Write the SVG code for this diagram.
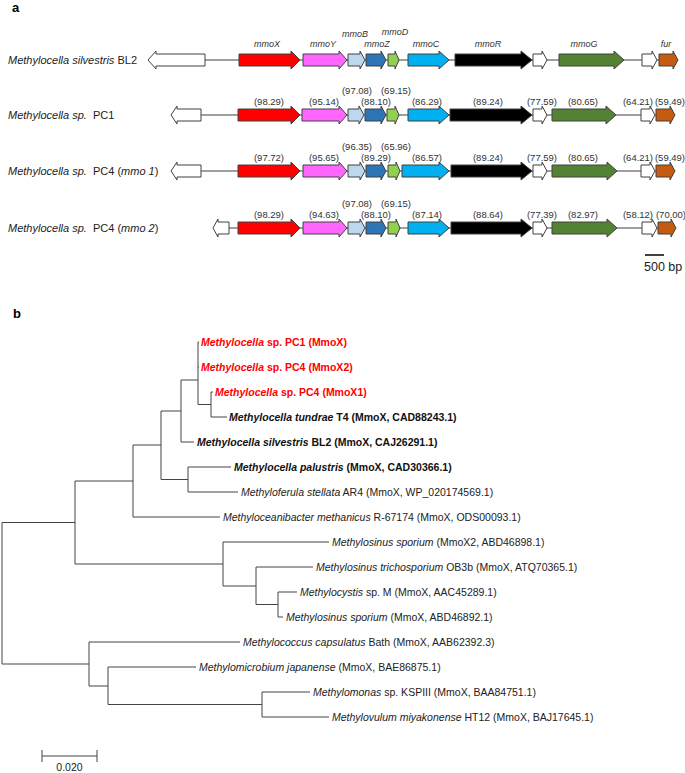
<svg xmlns="http://www.w3.org/2000/svg" width="685" height="773" viewBox="0 0 685 773">
<style>
.g{stroke:#404040;stroke-width:1;stroke-linejoin:miter}
.w{fill:#ffffff}.x{fill:#ff0000}.y{fill:#ff66ff}.b{fill:#bdd7ee}.z{fill:#2e75b6}.d{fill:#92d050}.c{fill:#00b0f0}.r{fill:#000000}.gg{fill:#548235}.f{fill:#c55a11}
.ln{stroke:#404040;stroke-width:1;fill:none}
.gl{font-family:"Liberation Sans",Arial,sans-serif;font-style:italic;font-size:9px;fill:#333;text-anchor:middle}
.num{font-family:"Liberation Sans",Arial,sans-serif;font-size:9.5px;fill:#333;text-anchor:middle}
.lbl{font-family:"Liberation Sans",Arial,sans-serif;font-size:11px;fill:#222}
.tl{font-family:"Liberation Sans",Arial,sans-serif;font-size:10.5px;fill:#222}
.bd{font-weight:bold;fill:#111}
.red{font-weight:bold;fill:#ff0000}
.it{font-style:italic}
.pl{font-family:"Liberation Sans",Arial,sans-serif;font-weight:bold;font-size:13px;fill:#000}
.tree{stroke:#444;stroke-width:1;fill:none}
</style>

<text class="pl" x="12" y="12">a</text>
<text class="pl" x="13" y="318">b</text>

<!-- Row 1 -->
<g id="row-bl2" transform="translate(0,60)">
<text class="lbl" x="8" y="4"><tspan class="it">Methylocella silvestris</tspan> BL2</text>
<path class="ln" d="M205 0H659"/>
<polygon class="g w" points="205,-6 156,-6 156,-9 148,0 156,9 156,6 205,6"/>
<polygon class="g x" points="239,-6 291,-6 291,-9 300,0 291,9 291,6 239,6"/>
<polygon class="g y" points="303,-6 339,-6 339,-9 347,0 339,9 339,6 303,6"/>
<polygon class="g b" points="348,-6 360,-6 360,-9 365,0 360,9 360,6 348,6"/>
<polygon class="g z" points="366,-6 381,-6 381,-9 386,0 381,9 381,6 366,6"/>
<polygon class="g d" points="388,-6 395,-6 395,-9 399,0 395,9 395,6 388,6"/>
<polygon class="g c" points="408,-6 439,-6 439,-9 449,0 439,9 439,6 408,6"/>
<polygon class="g r" points="455,-6 521,-6 521,-9 532,0 521,9 521,6 455,6"/>
<polygon class="g w" points="533,-6 542,-6 542,-9 547,0 542,9 542,6 533,6"/>
<polygon class="g gg" points="559,-6 614,-6 614,-9 624,0 614,9 614,6 559,6"/>
<polygon class="g w" points="642,-6 652,-6 652,-9 657,0 652,9 652,6 642,6"/>
<polygon class="g f" points="659,-6 673,-6 673,-9 678,0 673,9 673,6 659,6"/>
<text class="gl" x="267" y="-13">mmoX</text>
<text class="gl" x="323" y="-13">mmoY</text>
<text class="gl" x="355" y="-23">mmoB</text>
<text class="gl" x="377" y="-13">mmoZ</text>
<text class="gl" x="395" y="-25">mmoD</text>
<text class="gl" x="426" y="-13">mmoC</text>
<text class="gl" x="488" y="-13">mmoR</text>
<text class="gl" x="584" y="-13">mmoG</text>
<text class="gl" x="666" y="-13">fur</text>
</g>

<!-- Row 2 -->
<g id="row-pc1" transform="translate(0,115)">
<text class="lbl" x="8" y="4" xml:space="preserve"><tspan class="it">Methylocella sp.</tspan>  PC1</text>
<path class="ln" d="M201 0H656"/>
<polygon class="g w" points="201,-6 177,-6 177,-9 171,0 177,9 177,6 201,6"/>
<polygon class="g x" points="238,-6 291,-6 291,-9 300,0 291,9 291,6 238,6"/>
<polygon class="g y" points="302,-6 339,-6 339,-9 347,0 339,9 339,6 302,6"/>
<polygon class="g b" points="348,-6 359,-6 359,-9 364,0 359,9 359,6 348,6"/>
<polygon class="g z" points="365,-6 381,-6 381,-9 386,0 381,9 381,6 365,6"/>
<polygon class="g d" points="387,-6 395,-6 395,-9 399,0 395,9 395,6 387,6"/>
<polygon class="g c" points="408,-6 439,-6 439,-9 449,0 439,9 439,6 408,6"/>
<polygon class="g r" points="450,-6 521,-6 521,-9 532,0 521,9 521,6 450,6"/>
<polygon class="g w" points="533,-6 542,-6 542,-9 547,0 542,9 542,6 533,6"/>
<polygon class="g gg" points="552,-6 606,-6 606,-9 616,0 606,9 606,6 552,6"/>
<polygon class="g w" points="641,-6 650,-6 650,-9 655,0 650,9 650,6 641,6"/>
<polygon class="g f" points="656,-6 670,-6 670,-9 675,0 670,9 670,6 656,6"/>
<text class="num" x="269" y="-10">(98.29)</text>
<text class="num" x="324" y="-10">(95.14)</text>
<text class="num" x="357" y="-21.5">(97.08)</text>
<text class="num" x="396" y="-21.5">(69.15)</text>
<text class="num" x="376" y="-10">(88.10)</text>
<text class="num" x="427" y="-10">(86.29)</text>
<text class="num" x="488" y="-10">(89.24)</text>
<text class="num" x="542" y="-10">(77.59)</text>
<text class="num" x="583" y="-10">(80.65)</text>
<text class="num" x="638" y="-10">(64.21)</text>
<text class="num" x="670" y="-10">(59.49)</text>
</g>

<!-- Row 3 -->
<g id="row-pc4-mmo1" transform="translate(0,171)">
<text class="lbl" x="8" y="4" xml:space="preserve"><tspan class="it">Methylocella sp.</tspan>  PC4 (<tspan class="it">mmo 1</tspan>)</text>
<path class="ln" d="M201 0H656"/>
<polygon class="g w" points="201,-6 177,-6 177,-9 171,0 177,9 177,6 201,6"/>
<polygon class="g x" points="238,-6 291,-6 291,-9 300,0 291,9 291,6 238,6"/>
<polygon class="g y" points="303,-6 339,-6 339,-9 347,0 339,9 339,6 303,6"/>
<polygon class="g b" points="348,-6 360,-6 360,-9 365,0 360,9 360,6 348,6"/>
<polygon class="g z" points="366,-6 381,-6 381,-9 386,0 381,9 381,6 366,6"/>
<polygon class="g d" points="388,-6 396,-6 396,-9 400,0 396,9 396,6 388,6"/>
<polygon class="g c" points="402,-6 439,-6 439,-9 449,0 439,9 439,6 402,6"/>
<polygon class="g r" points="451,-6 521,-6 521,-9 532,0 521,9 521,6 451,6"/>
<polygon class="g w" points="533,-6 542,-6 542,-9 547,0 542,9 542,6 533,6"/>
<polygon class="g gg" points="552,-6 607,-6 607,-9 617,0 607,9 607,6 552,6"/>
<polygon class="g w" points="641,-6 650,-6 650,-9 655,0 650,9 650,6 641,6"/>
<polygon class="g f" points="656,-6 670,-6 670,-9 675,0 670,9 670,6 656,6"/>
<text class="num" x="269" y="-10">(97.72)</text>
<text class="num" x="324" y="-10">(95.65)</text>
<text class="num" x="357" y="-21.5">(96.35)</text>
<text class="num" x="396" y="-21.5">(65.96)</text>
<text class="num" x="376" y="-10">(89.29)</text>
<text class="num" x="427" y="-10">(86.57)</text>
<text class="num" x="488" y="-10">(89.24)</text>
<text class="num" x="542" y="-10">(77.59)</text>
<text class="num" x="583" y="-10">(80.65)</text>
<text class="num" x="638" y="-10">(64.21)</text>
<text class="num" x="670" y="-10">(59.49)</text>
</g>

<!-- Row 4 -->
<g id="row-pc4-mmo2" transform="translate(0,228)">
<text class="lbl" x="8" y="4" xml:space="preserve"><tspan class="it">Methylocella sp.</tspan>  PC4 (<tspan class="it">mmo 2</tspan>)</text>
<path class="ln" d="M229 0H658"/>
<polygon class="g w" points="229,-6 218,-6 218,-9 213,0 218,9 218,6 229,6"/>
<polygon class="g x" points="238,-6 291,-6 291,-9 300,0 291,9 291,6 238,6"/>
<polygon class="g y" points="303,-6 339,-6 339,-9 347,0 339,9 339,6 303,6"/>
<polygon class="g b" points="348,-6 360,-6 360,-9 365,0 360,9 360,6 348,6"/>
<polygon class="g z" points="366,-6 381,-6 381,-9 386,0 381,9 381,6 366,6"/>
<polygon class="g d" points="388,-6 396,-6 396,-9 400,0 396,9 396,6 388,6"/>
<polygon class="g c" points="408,-6 439,-6 439,-9 449,0 439,9 439,6 408,6"/>
<polygon class="g r" points="451,-6 521,-6 521,-9 532,0 521,9 521,6 451,6"/>
<polygon class="g w" points="533,-6 542,-6 542,-9 547,0 542,9 542,6 533,6"/>
<polygon class="g gg" points="552,-6 607,-6 607,-9 617,0 607,9 607,6 552,6"/>
<polygon class="g w" points="642,-6 652,-6 652,-9 657,0 652,9 652,6 642,6"/>
<polygon class="g f" points="658,-6 671,-6 671,-9 676,0 671,9 671,6 658,6"/>
<text class="num" x="269" y="-10">(98.29)</text>
<text class="num" x="324" y="-10">(94.63)</text>
<text class="num" x="357" y="-21.5">(97.08)</text>
<text class="num" x="396" y="-21.5">(69.15)</text>
<text class="num" x="376" y="-10">(88.10)</text>
<text class="num" x="427" y="-10">(87.14)</text>
<text class="num" x="488" y="-10">(88.64)</text>
<text class="num" x="542" y="-10">(77.39)</text>
<text class="num" x="583" y="-10">(82.97)</text>
<text class="num" x="638" y="-10">(58.12)</text>
<text class="num" x="671" y="-10">(70.00)</text>
</g>

<g id="scale-a">
<path d="M645 255H664" stroke="#000" stroke-width="1.5"/>
<text x="644" y="271" font-family="Liberation Sans, Arial, sans-serif" font-size="12.5" fill="#222">500 bp</text>
</g>

<!-- Tree connectors -->
<g id="connectors">
<path class="tree" d="M2 522.5V664 M2 522.5H75 M2 664H89
M75 481V564 M75 481H133 M75 564H223
M133 445V517 M133 445H161 M133 517H220
M161 411V479.5 M161 411H181 M161 479.5H188
M181 380V442 M181 380H198 M181 442H194
M198 342V404.5 M198 342H199 M198 367H199 M198 404.5H211
M211 392V417 M211 392H213 M211 417H227
M188 467V492 M188 467H231 M188 492H238
M223 542V586 M223 542H329 M223 586H256
M256 567V604.5 M256 567H313 M256 604.5H278
M278 592V617 M278 592H297 M278 617H283
M89 642V686 M89 642H240 M89 686H108
M108 667V704.5 M108 667H196 M108 704.5H262
M262 692V717 M262 692H310 M262 717H329"/>
</g>

<g id="leaf-pc1"><text class="tl red" x="201" y="346"><tspan class="it">Methylocella</tspan> sp. PC1 (MmoX)</text></g>
<g id="leaf-pc4-x2"><text class="tl red" x="201" y="371"><tspan class="it">Methylocella</tspan> sp. PC4 (MmoX2)</text></g>
<g id="leaf-pc4-x1"><text class="tl red" x="215" y="396"><tspan class="it">Methylocella</tspan> sp. PC4 (MmoX1)</text></g>
<g id="leaf-tundrae"><text class="tl bd" x="229" y="421"><tspan class="it">Methylocella tundrae</tspan> T4 (MmoX, CAD88243.1)</text></g>
<g id="leaf-silvestris"><text class="tl bd" x="197" y="446"><tspan class="it">Methylocella silvestris</tspan> BL2 (MmoX, CAJ26291.1)</text></g>
<g id="leaf-palustris"><text class="tl bd" x="234" y="471"><tspan class="it">Methylocella palustris</tspan> (MmoX, CAD30366.1)</text></g>
<g id="leaf-stellata"><text class="tl" x="241" y="496"><tspan class="it">Methyloferula stellata</tspan> AR4 (MmoX, WP_020174569.1)</text></g>
<g id="leaf-methanicus"><text class="tl" x="223" y="521"><tspan class="it">Methyloceanibacter methanicus</tspan> R-67174 (MmoX, ODS00093.1)</text></g>
<g id="leaf-sporium-x2"><text class="tl" x="332" y="546"><tspan class="it">Methylosinus sporium</tspan> (MmoX2, ABD46898.1)</text></g>
<g id="leaf-trichosporium"><text class="tl" x="316" y="571"><tspan class="it">Methylosinus trichosporium</tspan> OB3b (MmoX, ATQ70365.1)</text></g>
<g id="leaf-methylocystis"><text class="tl" x="300" y="596"><tspan class="it">Methylocystis</tspan> sp. M (MmoX, AAC45289.1)</text></g>
<g id="leaf-sporium"><text class="tl" x="286" y="621"><tspan class="it">Methylosinus sporium</tspan> (MmoX, ABD46892.1)</text></g>
<g id="leaf-capsulatus"><text class="tl" x="243" y="646"><tspan class="it">Methylococcus capsulatus</tspan> Bath (MmoX, AAB62392.3)</text></g>
<g id="leaf-japanense"><text class="tl" x="199" y="671"><tspan class="it">Methylomicrobium japanense</tspan> (MmoX, BAE86875.1)</text></g>
<g id="leaf-methylomonas"><text class="tl" x="313" y="696"><tspan class="it">Methylomonas</tspan> sp. KSPIII (MmoX, BAA84751.1)</text></g>
<g id="leaf-methylovulum"><text class="tl" x="332" y="721"><tspan class="it">Methylovulum miyakonense</tspan> HT12 (MmoX, BAJ17645.1)</text></g>

<g id="scale-b">
<path class="tree" d="M42 756H97 M42 750V762 M97 750V762"/>
<text x="69.5" y="771" text-anchor="middle" font-family="Liberation Sans, Arial, sans-serif" font-size="10.5" fill="#222">0.020</text>
</g>
</svg>
